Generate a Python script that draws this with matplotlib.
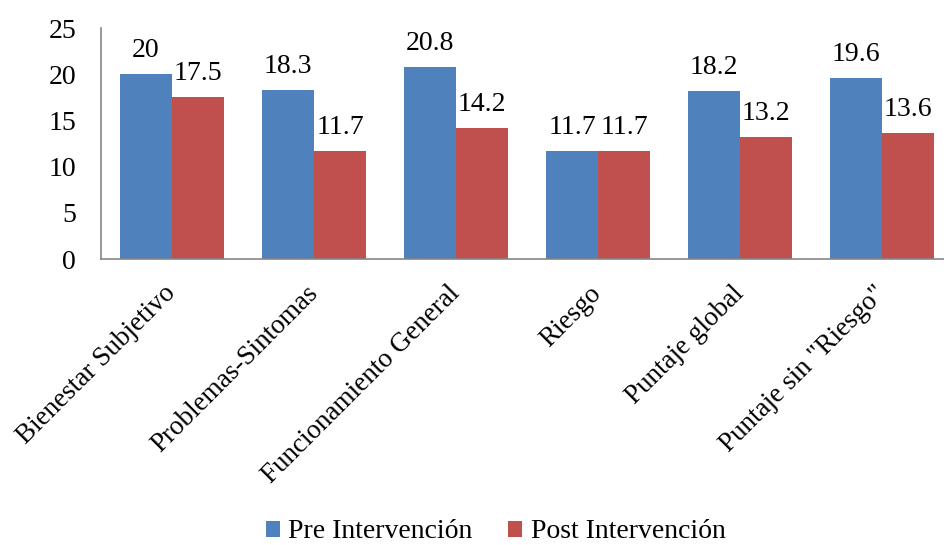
import numpy as np
import matplotlib.pyplot as plt

plt.rcParams['font.family'] = ['Liberation Serif', 'DejaVu Serif']

categorias = ['Bienestar Subjetivo', 'Problemas-Sintomas', 'Funcionamiento General',
              'Riesgo', 'Puntaje global', 'Puntaje sin "Riesgo"']
pre = [20, 18.3, 20.8, 11.7, 18.2, 19.6]
post = [17.5, 11.7, 14.2, 11.7, 13.2, 13.6]
etiquetas_pre = ['20', '18.3', '20.8', '11.7', '18.2', '19.6']
etiquetas_post = ['17.5', '11.7', '14.2', '11.7', '13.2', '13.6']

azul = '#4F81BD'
rojo = '#C0504D'

fig = plt.figure(figsize=(9.44, 5.45), dpi=100)
# el eje se extiende un poco más allá del borde derecho, como en el original
ax = fig.add_axes([101/944, 1 - 259/545, 852/944, 231/545])

x = np.arange(len(categorias))
w = 0.367
b1 = ax.bar(x - w/2, pre, w, color=azul, label='Pre Intervención')
b2 = ax.bar(x + w/2, post, w, color=rojo, label='Post Intervención')

for barras, textos in [(b1, etiquetas_pre), (b2, etiquetas_post)]:
    for rect, t in zip(barras, textos):
        ax.annotate(t, (rect.get_x() + rect.get_width()/2, rect.get_height()),
                    xytext=(0, 17), textcoords='offset points',
                    ha='center', va='center', fontsize=20)

ax.set_xlim(-0.5, len(categorias) - 0.5)
ax.set_ylim(0, 25)
ax.set_yticks([0, 5, 10, 15, 20, 25])
ax.tick_params(axis='y', length=0, labelsize=20, pad=18)
ax.tick_params(axis='x', length=0, labelsize=19.5, pad=22)
ax.set_xticks(x)
ax.set_xticklabels(categorias, rotation=45, ha='right', va='center',
                   rotation_mode='anchor')

for s in ['top', 'right']:
    ax.spines[s].set_visible(False)
for s in ['left', 'bottom']:
    ax.spines[s].set_color('#868686')
    ax.spines[s].set_linewidth(1.2)

fig.legend(loc='center', bbox_to_anchor=(0.525, 13/545), ncol=2, frameon=False,
           fontsize=20, handlelength=0.5, handleheight=0.5, handletextpad=0.3,
           columnspacing=1.3)

fig.savefig('out.png', dpi=100)
